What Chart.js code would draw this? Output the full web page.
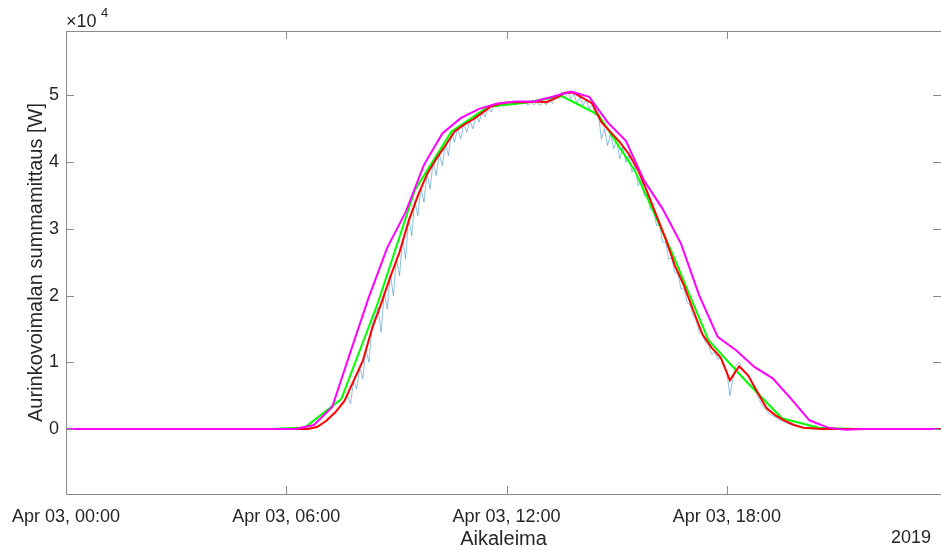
<!DOCTYPE html>
<html>
<head>
<meta charset="utf-8">
<script src="https://cdn.jsdelivr.net/npm/chart.js@4.4.1/dist/chart.umd.min.js"></script>
<style>
  html, body { margin: 0; padding: 0; background: #fff; }
  #wrap { width: 941px; height: 550px; position: relative; }
</style>
</head>
<body>
<div id="wrap"><canvas id="chart" width="941" height="550"></canvas></div>
<script>
// values in units of 1e4 W, times as HH:MM on Apr 03 2019
const xTickHours = [0, 6, 12, 18];
const yTickValues = [0, 1, 2, 3, 4, 5];

// raw measurement, one sample every 5 min starting 06:30
const rawStart = '06:30';
const rawStepMin = 5;
const rawVals = [
  0, 0, 0.01, 0.02, 0.03, 0.05,
  0.08, 0.12, 0.16, 0.2, 0.25, 0.3, 0.36, 0.42, 0.5, 0.38, 0.72, 0.6,
  0.92, 0.75, 1.2, 1.0, 1.55, 1.72, 1.82, 1.45, 2.05, 1.8, 2.32, 2.0,
  2.55, 2.3, 2.85, 2.55, 3.15, 2.9, 3.42, 3.2, 3.62, 3.4, 3.83, 3.6,
  4.0, 3.8, 4.13, 3.95, 4.27, 4.1, 4.44, 4.3, 4.51, 4.35, 4.57, 4.45,
  4.63, 4.5, 4.69, 4.6, 4.76, 4.68, 4.84, 4.75, 4.88, 4.82, 4.9, 4.85,
  4.9, 4.86, 4.9, 4.85, 4.9, 4.87, 4.9, 4.85, 4.9, 4.86, 4.9, 4.85,
  4.9, 4.86, 4.93, 4.88, 4.99, 4.95, 5.05, 4.95, 5.06, 4.95, 5.03, 4.88,
  4.98, 4.85, 4.94, 4.8, 4.87, 4.7, 4.72, 4.35, 4.5, 4.25, 4.42, 4.2,
  4.32, 4.05, 4.22, 4.0, 4.1, 3.85, 3.94, 3.65, 3.75, 3.5, 3.53, 3.3,
  3.29, 3.05, 3.05, 2.8, 2.8, 2.55, 2.56, 2.35, 2.33, 2.1, 2.1, 1.9,
  1.86, 1.7, 1.62, 1.45, 1.42, 1.3, 1.26, 1.12, 1.15, 1.05, 1.06, 0.98,
  0.85, 0.5, 0.75, 0.95, 1.0, 0.92, 0.85, 0.8, 0.72, 0.6, 0.5, 0.4,
  0.33, 0.28, 0.22, 0.2, 0.17, 0.14, 0.12, 0.1, 0.08, 0.06, 0.05, 0.04,
  0.03, 0.02, 0.01, 0.01, 0, 0, 0
];

// 15 min averages (red)
const redTimes = ['00:00', '06:20', '06:35', '06:50', '07:05', '07:20', '07:35', '07:50',
  '08:05', '08:20', '08:35', '08:50', '09:05', '09:20', '09:35', '09:50',
  '10:05', '10:20', '10:35', '10:50', '11:05', '11:20', '11:35', '11:50',
  '12:05', '12:20', '12:35', '12:50', '13:05', '13:20', '13:35', '13:50',
  '14:05', '14:20', '14:35', '14:50', '15:05', '15:20', '15:35', '15:50',
  '16:05', '16:20', '16:35', '16:50', '17:05', '17:20', '17:35', '17:50',
  '18:05', '18:20', '18:35', '18:50', '19:05', '19:20', '19:35', '19:50',
  '20:05', '20:20', '20:35', '23:50'];
const redVals = [0, 0, 0, 0.03, 0.12, 0.25, 0.42, 0.72,
  1.02, 1.5, 1.88, 2.28, 2.65, 3.12, 3.5, 3.82,
  4.05, 4.25, 4.46, 4.56, 4.64, 4.74, 4.84, 4.88,
  4.9, 4.9, 4.9, 4.91, 4.9, 4.96, 5.04, 5.04,
  4.96, 4.88, 4.6, 4.45, 4.3, 4.12, 3.88, 3.55,
  3.2, 2.85, 2.45, 2.15, 1.78, 1.42, 1.22, 1.07,
  0.73, 0.94, 0.8, 0.55, 0.31, 0.2, 0.12, 0.06,
  0.02, 0.01, 0, 0];

// hourly averages (green)
const greenTimes = ['00:30', '01:30', '02:30', '03:30', '04:30', '05:30', '06:30', '07:30',
  '08:30', '09:30', '10:30', '11:30', '12:30', '13:30', '14:30', '15:30',
  '16:30', '17:30', '18:30', '19:30', '20:30', '21:30', '22:30', '23:30'];
const greenVals = [0, 0, 0, 0, 0, 0, 0.02, 0.45,
  1.9, 3.58, 4.46, 4.83, 4.89, 4.99, 4.71, 3.87,
  2.65, 1.33, 0.73, 0.16, 0.02, 0, 0, 0];

// magenta curve, 30 min steps
const magTimes = ['00:00', '06:15', '06:45', '07:15', '07:45', '08:15', '08:45', '09:15',
  '09:45', '10:15', '10:45', '11:15', '11:45', '12:15', '12:45', '13:15',
  '13:45', '14:15', '14:45', '15:15', '15:45', '16:15', '16:45', '17:15',
  '17:45', '18:15', '18:45', '19:15', '19:45', '20:15', '20:45', '21:15',
  '21:45', '23:45'];
const magVals = [0, 0, 0.06, 0.33, 1.16, 1.98, 2.72, 3.25,
  3.96, 4.43, 4.66, 4.8, 4.88, 4.91, 4.91, 4.98,
  5.06, 4.98, 4.6, 4.32, 3.72, 3.3, 2.78, 2.0,
  1.38, 1.18, 0.93, 0.76, 0.45, 0.13, 0.02, -0.01,
  0, 0];

const hrs = s => {
  const [h, m] = s.split(':').map(Number);
  return h + m / 60;
};
const toPoints = (times, vals) => times.map((t, i) => ({ x: hrs(t), y: vals[i] * 1e4 }));
const rawPoints = rawVals.map((v, i) => ({ x: hrs(rawStart) + i * rawStepMin / 60, y: v * 1e4 }));

const TEXT = '#262626';
const FONT = '"Liberation Sans", Arial, Helvetica, sans-serif';

// MATLAB-like box with inward ticks and the extra labels
const matlabAxes = {
  id: 'matlabAxes',
  afterDraw(chart) {
    const { ctx, chartArea: a, scales } = chart;
    const tl = 8;
    ctx.save();
    ctx.strokeStyle = '#8a8a8a';
    ctx.lineWidth = 1;
    ctx.beginPath();
    ctx.rect(a.left + 0.5, a.top + 0.5, a.right - a.left, a.bottom - a.top);
    xTickHours.forEach(h => {
      const x = Math.round(scales.x.getPixelForValue(h)) + 0.5;
      ctx.moveTo(x, a.bottom); ctx.lineTo(x, a.bottom - tl);
      ctx.moveTo(x, a.top); ctx.lineTo(x, a.top + tl);
    });
    yTickValues.forEach(v => {
      const y = Math.round(scales.y.getPixelForValue(v * 1e4)) + 0.5;
      ctx.moveTo(a.left, y); ctx.lineTo(a.left + tl, y);
      ctx.moveTo(a.right, y); ctx.lineTo(a.right - tl, y);
    });
    ctx.stroke();

    ctx.fillStyle = TEXT;
    ctx.textBaseline = 'alphabetic';
    // exponent
    ctx.textAlign = 'left';
    ctx.font = '18px ' + FONT;
    ctx.fillText('\u00d710', 66, 27);
    ctx.font = '13px ' + FONT;
    ctx.fillText('4', 101, 17);
    // x title and year
    ctx.textAlign = 'center';
    ctx.font = '20px ' + FONT;
    ctx.fillText('Aikaleima', (a.left + a.right) / 2, 545);
    ctx.font = '18px ' + FONT;
    ctx.fillText('2019', 911, 543);
    // y title
    ctx.translate(42, (a.top + a.bottom) / 2);
    ctx.rotate(-Math.PI / 2);
    ctx.font = '20px ' + FONT;
    ctx.fillText('Aurinkovoimalan summamittaus [W]', 0, 0);
    ctx.restore();
  }
};

const line = (label, data, color, width, order) => ({
  label, data, borderColor: color, backgroundColor: color,
  borderWidth: width, pointRadius: 0, tension: 0, fill: false, order
});

new Chart(document.getElementById('chart').getContext('2d'), {
  type: 'line',
  data: {
    datasets: [
      line('Mittaus', rawPoints, 'rgba(0, 114, 189, 0.45)', 1, 4),
      line('Tuntikeskiarvo', toPoints(greenTimes, greenVals), '#00ff00', 2, 3),
      line('15 min keskiarvo', toPoints(redTimes, redVals), '#ff0000', 2, 2),
      line('Ennuste', toPoints(magTimes, magVals), '#ff00ff', 2, 1)
    ]
  },
  options: {
    responsive: false,
    animation: false,
    devicePixelRatio: 1,
    layout: { padding: { top: 31, right: 0, left: 0, bottom: 0 } },
    plugins: { legend: { display: false }, tooltip: { enabled: false } },
    scales: {
      x: {
        type: 'linear',
        min: 0,
        max: hrs('23:50'),
        grid: { display: false, drawTicks: false },
        border: { display: false },
        afterFit(scale) { scale.height = 56; },
        afterBuildTicks(scale) { scale.ticks = xTickHours.map(h => ({ value: h })); },
        ticks: {
          color: TEXT,
          font: { family: FONT, size: 18 },
          padding: 12,
          maxRotation: 0,
          autoSkip: false,
          callback: v => 'Apr 03, ' + String(v).padStart(2, '0') + ':00'
        }
      },
      y: {
        min: -9750,
        max: 59670,
        grid: { display: false, drawTicks: false },
        border: { display: false },
        afterFit(scale) { scale.width = 66; },
        afterBuildTicks(scale) { scale.ticks = yTickValues.map(v => ({ value: v * 1e4 })); },
        ticks: {
          color: TEXT,
          font: { family: FONT, size: 18 },
          padding: 7,
          callback: v => String(v / 1e4)
        }
      }
    }
  },
  plugins: [matlabAxes]
});
</script>
</body>
</html>
